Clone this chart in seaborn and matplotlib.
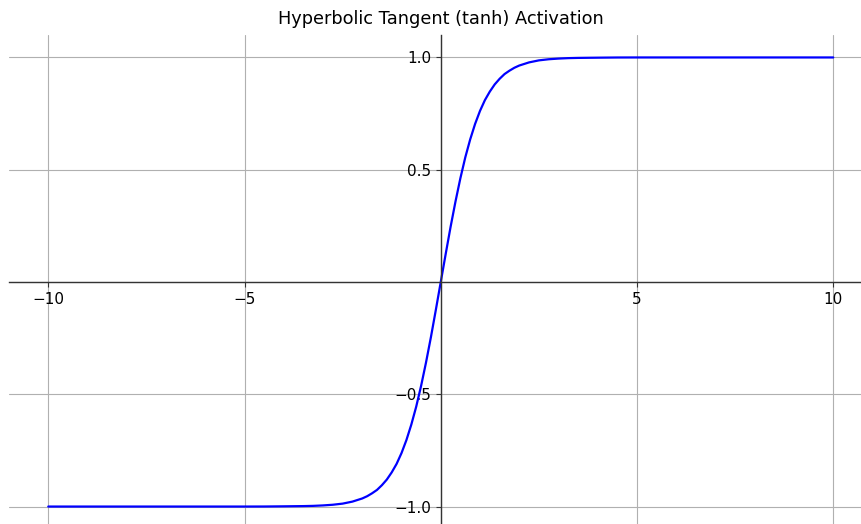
import matplotlib
matplotlib.use("Agg")
import matplotlib.pyplot as plt
import seaborn as sns
import pandas as pd

# values (right half; left half mirrors it)
x_pos = [0.0, 0.125, 0.25, 0.375, 0.5, 0.625, 0.75, 0.875, 1.0, 1.125, 1.25, 1.375, 1.5,
         1.625, 1.75, 1.875, 2.0, 2.25, 2.5, 2.75, 3.0, 3.25, 3.5, 4.0, 4.5, 5.0, 6.0, 8.0, 10.0]
y_pos = [0.0, 0.124, 0.245, 0.358, 0.462, 0.555, 0.635, 0.704, 0.762, 0.810, 0.848, 0.880, 0.905,
         0.926, 0.941, 0.954, 0.964, 0.978, 0.987, 0.992, 0.995, 0.997, 0.998, 0.999, 0.9998, 1.0, 1.0, 1.0, 1.0]
x_vals = [-v for v in x_pos[::-1]] + x_pos[1:]
y_vals = [-v for v in y_pos[::-1]] + y_pos[1:]
x_ticks = [-10, -5, 5, 10]
y_ticks = [-1.0, -0.5, 0.5, 1.0]
title = "Hyperbolic Tangent (tanh) Activation"

df = pd.DataFrame({"x": x_vals, "y": y_vals})

sns.set_style("white")
plt.rcParams['font.family'] = ['DejaVu Sans']
plt.rcParams['text.color'] = 'black'

fig = plt.figure(figsize=(8.61, 5.24), dpi=100)
ax = fig.add_axes([9/861, -5/524, 863.5/861, 494/524])
sns.lineplot(data=df, x="x", y="y", ax=ax, color="blue", linewidth=1.6, sort=False)
ax.set_xlim(-11, 11)
ax.set_ylim(-1.1, 1.1)
ax.set_xticks(x_ticks)
ax.set_yticks(y_ticks)
ax.set_xticklabels([f"{t}".replace("-", "\u2212") for t in x_ticks])
ax.set_yticklabels([f"{t:.1f}".replace("-", "\u2212") for t in y_ticks])
ax.grid(True, color="#b0b0b0", linewidth=0.8)
ax.axhline(0, color="#b0b0b0", linewidth=0.8, zorder=0)
ax.axvline(0, color="#b0b0b0", linewidth=0.8, zorder=0)
ax.set_axisbelow(True)
ax.spines['left'].set_position(('data', 0))
ax.spines['bottom'].set_position(('data', 0))
ax.spines['top'].set_visible(False)
ax.spines['right'].set_visible(False)
for s in ('left', 'bottom'):
    ax.spines[s].set_color("#333333")
    ax.spines[s].set_linewidth(1.0)
ax.tick_params(axis='both', labelsize=11, length=3.5, width=0.8, color="#333333",
               bottom=True, left=True, labelcolor="black")
ax.set_xlabel("")
ax.set_ylabel("")
ax.set_title(title, fontsize=12.8, pad=8, color="black")
fig.savefig("out.png", dpi=100)
